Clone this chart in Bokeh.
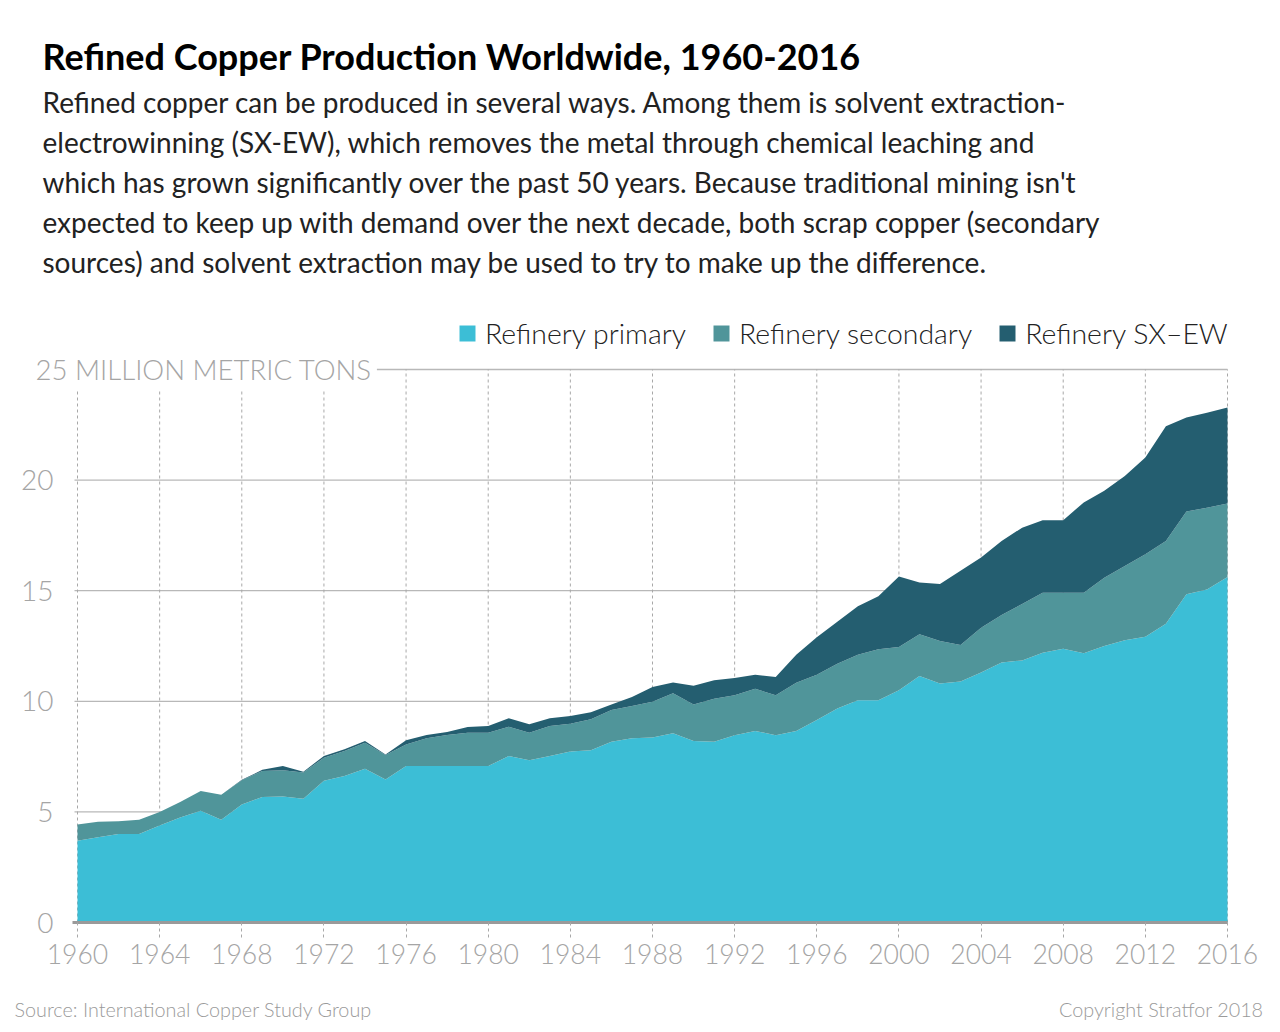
from bokeh.plotting import figure
from bokeh.models import (ColumnDataSource, Range1d, FixedTicker, Label, Legend, LinearAxis)
from bokeh.embed import file_html
from bokeh.resources import INLINE

years = list(range(1960, 2017))
primary = [3.70, 3.85, 4.00, 4.00, 4.39, 4.75, 5.05, 4.65, 5.34, 5.67,
           5.70, 5.60, 6.41, 6.62, 6.95, 6.47, 7.07, 7.07, 7.07, 7.07,
           7.07, 7.53, 7.34, 7.53, 7.73, 7.79, 8.17, 8.33, 8.36, 8.55,
           8.20, 8.17, 8.47, 8.66, 8.47, 8.66, 9.15, 9.68, 10.05, 10.05,
           10.50, 11.14, 10.80, 10.90, 11.30, 11.75, 11.85, 12.20, 12.38, 12.17,
           12.50, 12.76, 12.92, 13.51, 14.84, 15.05, 15.62]
secondary = [0.73, 0.70, 0.58, 0.65, 0.61, 0.70, 0.90, 1.13, 1.09, 1.18,
             1.18, 1.18, 1.04, 1.13, 1.18, 1.10, 0.98, 1.26, 1.41, 1.51,
             1.51, 1.32, 1.24, 1.35, 1.26, 1.40, 1.44, 1.46, 1.62, 1.81,
             1.66, 1.95, 1.80, 1.91, 1.80, 2.18, 2.05, 2.02, 2.05, 2.30,
             1.96, 1.89, 1.93, 1.65, 2.03, 2.15, 2.55, 2.71, 2.53, 2.74,
             3.09, 3.36, 3.73, 3.74, 3.74, 3.70, 3.32]
sxew = [0, 0, 0, 0, 0, 0, 0, 0, 0.02, 0.05,
        0.19, 0.04, 0.08, 0.08, 0.07, 0.03, 0.19, 0.15, 0.13, 0.26,
        0.30, 0.38, 0.38, 0.35, 0.34, 0.31, 0.24, 0.41, 0.67, 0.49,
        0.84, 0.83, 0.78, 0.63, 0.83, 1.26, 1.70, 1.90, 2.20, 2.40,
        3.18, 2.34, 2.57, 3.35, 3.17, 3.35, 3.45, 3.28, 3.28, 4.08,
        3.93, 4.07, 4.37, 5.18, 4.25, 4.30, 4.34]

series_names = ["Refinery primary", "Refinery secondary", "Refinery SX\u2013EW"]
colors = ["#3cbed6", "#50959a", "#245e70"]
x_ticks = list(range(1960, 2017, 4))
y_ticks = [0, 5, 10, 15, 20]
y_grid = [5, 10, 15, 20, 25]

title = "Refined Copper Production Worldwide, 1960-2016"
subtitle = [
    "Refined copper can be produced in several ways. Among them is solvent extraction-",
    "electrowinning (SX-EW), which removes the metal through chemical leaching and",
    "which has grown significantly over the past 50 years. Because traditional mining isn't",
    "expected to keep up with demand over the next decade, both scrap copper (secondary",
    "sources) and solvent extraction may be used to try to make up the difference.",
]
unit_label = "25 MILLION METRIC TONS"
source_text = "Source: International Copper Study Group"
copyright_text = "Copyright Stratfor 2018"

FONT = "Lato"
LIGHT = "Lato Light"

W, H = 1280, 1032
X0, X1 = 77.0, 1227.0      # pixel positions of 1960 and 2016
Y0, Y25 = 922.0, 369.0     # pixel positions of 0 and 25
pxy = (X1 - X0) / (2016 - 1960)
pyy = (Y0 - Y25) / 25.0
x_range = Range1d(1960 - X0 / pxy, 2016 + (W - X1) / pxy)
y_range = Range1d(-(H - Y0) / pyy, Y0 / pyy)

src = ColumnDataSource(dict(year=years, primary=primary, secondary=secondary, sxew=sxew))

p = figure(width=W, height=H, output_backend="svg", toolbar_location=None,
           x_range=x_range, y_range=y_range,
           x_axis_location=None, y_axis_location=None,
           min_border=0)
p.outline_line_color = None
p.background_fill_color = "white"
p.border_fill_color = "white"
p.grid.visible = False

# grid lines (drawn first so the areas cover them)
grid_start = x_ticks[0] - 3 / pxy
p.segment(x0=[grid_start] * len(y_grid), x1=[x_ticks[-1]] * len(y_grid),
          y0=y_grid, y1=y_grid, line_color="#b8b8b8", line_width=1.3)
p.segment(x0=x_ticks, x1=x_ticks, y0=[0] * len(x_ticks), y1=[y_grid[-1]] * len(x_ticks),
          line_color="#a8a8a8", line_width=1, line_dash="3 3")

renderers = p.varea_stack(stackers=["primary", "secondary", "sxew"], x="year",
                          color=colors, source=src)

# x axis fixed at y = 0
xa = LinearAxis(fixed_location=0, bounds=(1960 - 5 / pxy, 2016), ticker=FixedTicker(ticks=x_ticks))
xa.axis_line_color = "#9a9a9a"
xa.axis_line_width = 3
xa.major_tick_in = 0
xa.major_tick_out = 15
xa.major_tick_line_color = "#a8a8a8"
xa.major_tick_line_dash = "3 3"
xa.minor_tick_line_color = None
xa.major_label_text_font = LIGHT
xa.major_label_text_font_size = "26.5px"
xa.major_label_text_color = "#a5a5a5"
xa.major_label_standoff = 6
p.add_layout(xa, "below")

# y axis fixed at x = 1960
ya = LinearAxis(fixed_location=1960, bounds=(0, 20), ticker=FixedTicker(ticks=y_ticks))
ya.axis_line_color = None
ya.major_tick_line_color = None
ya.minor_tick_line_color = None
ya.major_label_text_font = LIGHT
ya.major_label_text_font_size = "28px"
ya.major_label_text_color = "#a5a5a5"
ya.major_label_standoff = 18
p.add_layout(ya, "left")

# legend
legend = Legend(items=[(series_names[i], [renderers[i]]) for i in range(3)],
                orientation="horizontal", location=(457, H - 350),
                glyph_width=20, glyph_height=20, label_standoff=8, spacing=25,
                padding=0, margin=0, border_line_color=None,
                background_fill_alpha=0,
                label_text_font=LIGHT, label_text_font_size="28.4px",
                label_text_color="#222222")
p.add_layout(legend, "center")

# unit label at 25 gridline
p.add_layout(Label(x=30, y=25, x_units="canvas", y_units="data", text=unit_label,
                   text_font=LIGHT, text_font_size="27.6px", text_color="#a5a5a5",
                   text_baseline="middle", background_fill_color="white",
                   padding=5))

# titles
p.add_layout(Label(x=42, y=55, x_units="canvas", y_units="canvas", text=title,
                   text_font=FONT, text_font_style="bold", text_font_size="36px",
                   text_color="#000000", text_baseline="middle"))
for i, line in enumerate(subtitle):
    p.add_layout(Label(x=42, y=101 + 40 * i, x_units="canvas", y_units="canvas",
                       text=line, text_font=FONT, text_font_size="28px",
                       text_color="#222222", text_baseline="middle"))

# footer
p.add_layout(Label(x=14, y=1008, x_units="canvas", y_units="canvas", text=source_text,
                   text_font=LIGHT, text_font_size="19.8px", text_color="#9a9a9a",
                   text_baseline="middle"))
p.add_layout(Label(x=1263, y=1008, x_units="canvas", y_units="canvas", text=copyright_text,
                   text_font=LIGHT, text_font_size="19.8px", text_color="#9a9a9a",
                   text_baseline="middle", text_align="right"))

open("out.html", "w").write(file_html(p, INLINE))
